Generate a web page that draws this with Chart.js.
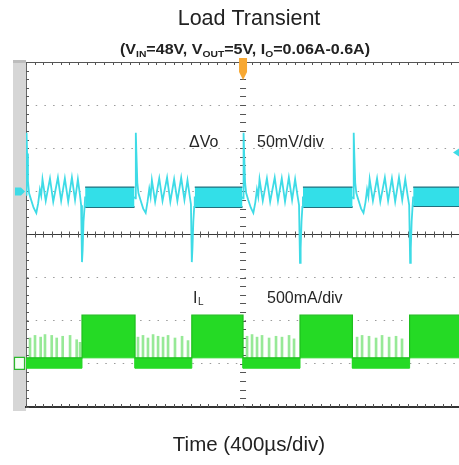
<!DOCTYPE html>
<html><head><meta charset="utf-8">
<script src="https://cdn.jsdelivr.net/npm/chart.js@4.4.1/dist/chart.umd.min.js"></script>
<style>html,body{margin:0;padding:0;background:#fff;overflow:hidden;width:459px;height:465px}canvas{display:block}</style>
</head><body>
<canvas id="c" width="472" height="465"></canvas>
<script>
// ---------- text ----------
const chartTitle = 'Load Transient';
const xAxisTitle = 'Time (400\u00b5s/div)';
const subtitleParts = [['(V', 0], ['IN', 1], ['=48V, V', 0], ['OUT', 1], ['=5V, I', 0], ['O', 1], ['=0.06A-0.6A)', 0]];
const voltLabel = '\u0394Vo', voltScaleLabel = '50mV/div';
const currLabel = ['I', 'L'], currScaleLabel = '500mA/div';

// ---------- axes (scope graticule; the screen runs slightly past the right edge of the picture) ----------
const timeMin = 0, timeMax = 4110, timePerDiv = 400;   // µs
const divMin = -4, divMax = 4;                          // vertical divisions
const mvPerDiv = 50, vZeroDiv = 1;                      // ΔVo channel: 50 mV/div, ground at +1 div
const aPerDiv = 0.5, iZeroDiv = -3;                     // IL channel: 500 mA/div, ground at -3 div

// ---------- ΔVo trace, [µs, mV] ----------
const dVoSeg1 = [[0,-4],[5,68],[10,44],[18,12],[28,-2],[45,-9],[70,-19],[95,-25],[112,-14],[128,2],[140,-5],[152,14],[182,-11],[221,15],[251,-12],[294,16],[324,-11],[358,15],[389,-12],[423,16],[452,-10],[478,14],[498,-5],[508,-16],[516,-82],[522,-68],[530,-35],[540,-18],[545,-6]];
const dVoSeg2 = [[1000,-6],[1007,-8],[1012,68],[1017,46],[1026,10],[1036,-2],[1055,-10],[1080,-20],[1103,-25],[1120,-12],[1136,3],[1148,-6],[1160,13],[1190,-12],[1228,15],[1258,-11],[1300,16],[1330,-12],[1365,14],[1395,-11],[1430,16],[1460,-10],[1488,13],[1508,-5],[1520,-15],[1528,-82],[1534,-66],[1542,-35],[1550,-18],[1555,-6]];
const dVoSeg3 = [[1995,-6],[2000,-8],[2005,68],[2010,45],[2019,10],[2029,-2],[2048,-10],[2072,-19],[2095,-25],[2113,-13],[2128,2],[2140,-6],[2152,14],[2182,-11],[2220,15],[2250,-12],[2292,16],[2322,-11],[2357,15],[2387,-12],[2422,16],[2452,-10],[2480,14],[2502,-5],[2516,-16],[2525,-83],[2531,-66],[2539,-35],[2547,-18],[2552,-6]];
const dVoSeg4 = [[3010,-6],[3015,-8],[3020,68],[3025,45],[3034,10],[3044,-2],[3063,-10],[3088,-20],[3110,-25],[3128,-13],[3143,2],[3155,-6],[3167,14],[3197,-11],[3235,15],[3265,-12],[3307,16],[3337,-11],[3372,15],[3402,-12],[3437,16],[3467,-10],[3495,14],[3517,-5],[3531,-16],[3540,-83],[3546,-66],[3554,-35],[3562,-18],[3568,-6]];
// ΔVo heavy-load ripple band (µs, mV)
const vBandStart  = [545, 1555, 2552, 3568];
const vBandEnd    = [1000, 1995, 3010, 4110];
const vBandTop    = [5, 5, 5, 5];
const vBandBottom = [-18, -18, -18, -17];

// ---------- IL trace ----------
const iEdgeT       = [0, 516, 1005, 1528, 2000, 2525, 3008, 3535, 4110];     // µs
const iLevelTop    = [0.07, 0.565, 0.07, 0.565, 0.07, 0.565, 0.07, 0.565];   // A
const iLevelBottom = [-0.05, 0.07, -0.05, 0.07, -0.05, 0.07, -0.05, 0.07];   // A
const iPulseBase = 0.07;
const iPulseT = [37,83,135,175,237,283,338,406,467,498, 1032,1078,1124,1171,1217,1263,1309,1373,1438,1493, 2037,2083,2129,2175,2240,2304,2359,2424,2470, 3051,3097,3161,3226,3281,3346,3410,3465];
const iPulseA = [0.30,0.33,0.31,0.34,0.33,0.30,0.32,0.33,0.28,0.25, 0.31,0.33,0.30,0.34,0.32,0.31,0.33,0.30,0.32,0.27, 0.32,0.34,0.31,0.33,0.30,0.32,0.31,0.33,0.29, 0.31,0.33,0.32,0.30,0.33,0.31,0.32,0.29];

// ---------- colours ----------
const cyan = '#3edbe6', cyanBand = '#33dfe8', cyanEdge = '#22717f';
const green = '#25da25', greenEdge = '#1fbf1f', greenPulse = 'rgba(125,228,125,0.8)';

Chart.defaults.font.family = "'Liberation Sans', Arial, sans-serif";

const datasets = [];
vBandStart.forEach((s, i) => {
  datasets.push({type:'line', yAxisID:'yV', data:[{x:s, y:vBandTop[i]}, {x:vBandEnd[i], y:vBandTop[i]}],
    borderColor:cyanEdge, borderWidth:1.2, backgroundColor:cyanBand, fill:'+1', pointRadius:0, order:6});
  datasets.push({type:'line', yAxisID:'yV', data:[{x:s, y:vBandBottom[i]}, {x:vBandEnd[i], y:vBandBottom[i]}],
    borderColor:cyanEdge, borderWidth:2, fill:false, pointRadius:0, order:6});
});
const iTop = [], iBot = [];
for (let k = 0; k < iLevelTop.length; k++) {
  iTop.push({x:iEdgeT[k], y:iLevelTop[k]}, {x:iEdgeT[k+1], y:iLevelTop[k]});
  iBot.push({x:iEdgeT[k], y:iLevelBottom[k]}, {x:iEdgeT[k+1], y:iLevelBottom[k]});
}
datasets.push({type:'line', yAxisID:'yI', data:iTop, borderColor:greenEdge, borderWidth:1.2, backgroundColor:green, fill:'+1', pointRadius:0, order:4});
datasets.push({type:'line', yAxisID:'yI', data:iBot, borderColor:green, borderWidth:1, fill:false, pointRadius:0, order:4});
datasets.push({type:'bar', yAxisID:'yI', data:iPulseT.map((t, i) => ({x:t, y:[iPulseBase, iPulseA[i]]})),
  backgroundColor:greenPulse, barThickness:2, grouped:false, order:5});
[dVoSeg1, dVoSeg2, dVoSeg3, dVoSeg4].forEach(seg => {
  datasets.push({type:'line', yAxisID:'yV', data:seg.map(p => ({x:p[0], y:p[1]})),
    borderColor:cyan, borderWidth:1.8, fill:false, pointRadius:0, tension:0, order:1});
});

const isTick = c => c.type === 'tick' && c.tick;
const scopeDecor = {
  id: 'scopeDecor',
  beforeDraw(chart) {
    const {ctx, chartArea:a} = chart;
    ctx.save();
    ctx.fillStyle = '#d6d6d6';
    ctx.fillRect(13, a.top - 2, a.left - 13, a.bottom - a.top + 6);
    ctx.fillStyle = '#bdbdbd';
    ctx.fillRect(13, a.top - 2, a.left - 13, 3);
    ctx.restore();
  },
  beforeDatasetsDraw(chart) {
    const {ctx, chartArea:a, scales} = chart;
    const x = scales.x, y = scales.y;
    const cy = y.getPixelForValue(0), cx = x.getPixelForValue(2000);
    ctx.save();
    ctx.strokeStyle = '#555'; ctx.lineWidth = 1;
    ctx.beginPath();
    for (let v = timeMin; v <= timeMax; v += timePerDiv / 5) {
      const px = Math.round(x.getPixelForValue(v)) + 0.5;
      ctx.moveTo(px, cy - 3); ctx.lineTo(px, cy + 3);
      ctx.moveTo(px, a.top); ctx.lineTo(px, a.top + 3);
      ctx.moveTo(px, a.bottom - 3); ctx.lineTo(px, a.bottom);
    }
    for (let d = divMin; d <= divMax + 1e-6; d += 0.2) {
      const py = Math.round(y.getPixelForValue(d)) + 0.5;
      ctx.moveTo(cx - 3, py); ctx.lineTo(cx + 3, py);
      ctx.moveTo(a.left, py); ctx.lineTo(a.left + 3, py);
    }
    ctx.stroke();
    ctx.restore();
  },
  afterDatasetsDraw(chart) {
    const {ctx, chartArea:a, scales} = chart;
    const x = scales.x, yV = scales.yV, yI = scales.yI;
    ctx.save();
    // trigger position marker
    const tx = x.getPixelForValue(2000);
    ctx.fillStyle = '#f7a833';
    ctx.beginPath();
    ctx.moveTo(tx - 4, a.top - 4); ctx.lineTo(tx + 4, a.top - 4); ctx.lineTo(tx + 4, a.top + 10);
    ctx.lineTo(tx, a.top + 18); ctx.lineTo(tx - 4, a.top + 10); ctx.closePath(); ctx.fill();
    // channel ground markers
    const gv = yV.getPixelForValue(0);
    ctx.fillStyle = cyan;
    ctx.beginPath();
    ctx.moveTo(15, gv - 4); ctx.lineTo(21, gv - 4); ctx.lineTo(25, gv); ctx.lineTo(21, gv + 4); ctx.lineTo(15, gv + 4); ctx.closePath(); ctx.fill();
    const gi = yI.getPixelForValue(0);
    ctx.fillStyle = '#f4fff4'; ctx.strokeStyle = '#2cb82c'; ctx.lineWidth = 1.2;
    ctx.beginPath(); ctx.rect(14.5, gi - 6.5, 10, 12); ctx.fill(); ctx.stroke();
    // trigger level marker (right edge of the picture)
    const tl = yV.getPixelForValue(45);
    ctx.fillStyle = cyan;
    ctx.beginPath(); ctx.moveTo(453, tl); ctx.lineTo(459, tl - 4); ctx.lineTo(459, tl + 4); ctx.closePath(); ctx.fill();
    // channel annotations
    ctx.fillStyle = '#262626';
    ctx.textBaseline = 'middle';
    ctx.font = "16px 'Liberation Sans', Arial, sans-serif";
    ctx.fillText(voltLabel, 189, 143);
    ctx.fillText(voltScaleLabel, 257, 143);
    ctx.fillText(currScaleLabel, 267, 299);
    ctx.fillText(currLabel[0], 193, 299);
    const iw = ctx.measureText(currLabel[0]).width;
    ctx.font = "10px 'Liberation Sans', Arial, sans-serif";
    ctx.fillText(currLabel[1], 193 + iw + 0.5, 302);
    ctx.restore();
  },
  afterDraw(chart) {
    const ctx = chart.ctx;
    ctx.save();
    const mainF = "bold 14px 'Liberation Sans', Arial, sans-serif", subF = "bold 9px 'Liberation Sans', Arial, sans-serif";
    let w = 0;
    subtitleParts.forEach(p => { ctx.font = p[1] ? subF : mainF; w += ctx.measureText(p[0]).width; });
    const targetW = 250, k = targetW / w;
    ctx.translate(245 - targetW / 2, 0);
    ctx.scale(k, 1);
    let px = 0;
    ctx.fillStyle = '#222'; ctx.textBaseline = 'alphabetic';
    subtitleParts.forEach(p => {
      ctx.font = p[1] ? subF : mainF;
      ctx.fillText(p[0], px, p[1] ? 57 : 54);
      px += ctx.measureText(p[0]).width;
    });
    ctx.restore();
  }
};

new Chart(document.getElementById('c'), {
  type: 'line',
  data: { datasets },
  plugins: [scopeDecor],
  options: {
    responsive: false, animation: false, events: [],
    layout: { padding: { left: 26, right: 0, top: 0, bottom: 0 } },
    plugins: {
      legend: { display: false }, tooltip: { enabled: false },
      title: { display: true, text: chartTitle, color: '#222',
        font: { size: 21.5, weight: 'normal', lineHeight: 1.2 }, padding: { top: 6, bottom: 30.2 } }
    },
    scales: {
      x: { type: 'linear', min: timeMin, max: timeMax, offset: false,
        afterBuildTicks: s => { s.ticks = s.ticks.filter(t => t.value % timePerDiv === 0); },
        ticks: { display: false, stepSize: timePerDiv },
        grid: { drawTicks: false, lineWidth: 1,
          color: c => isTick(c) && c.tick.value === 2000 ? '#555' : (isTick(c) && c.tick.value === 0 ? 'rgba(0,0,0,0)' : '#9a9a9a') },
        border: { display: true, color: '#333', width: 2,
          dash: c => (isTick(c) && c.tick.value !== 2000) ? [1.5, 7.1] : [] },
        title: { display: true, text: xAxisTitle, color: '#222', font: { size: 20.5, lineHeight: 1.2 }, padding: { top: 26.5, bottom: 6.9 } }
      },
      y: { type: 'linear', position: 'left', min: divMin, max: divMax,
        ticks: { display: false, stepSize: 1 },
        grid: { drawTicks: false, lineWidth: 1,
          color: c => !isTick(c) ? '#9a9a9a' : (c.tick.value === 0 ? '#3a3a3a' : (c.tick.value === divMax ? '#555' : (c.tick.value === divMin ? 'rgba(0,0,0,0)' : '#9a9a9a'))) },
        border: { display: true, color: '#666', width: 1,
          dash: c => (isTick(c) && Math.abs(c.tick.value) !== 4 && c.tick.value !== 0) ? [1.5, 7.2] : [] }
      },
      yV: { type: 'linear', display: false, min: (divMin - vZeroDiv) * mvPerDiv, max: (divMax - vZeroDiv) * mvPerDiv },
      yI: { type: 'linear', display: false, min: (divMin - iZeroDiv) * aPerDiv, max: (divMax - iZeroDiv) * aPerDiv }
    }
  }
});
</script>
</body></html>
